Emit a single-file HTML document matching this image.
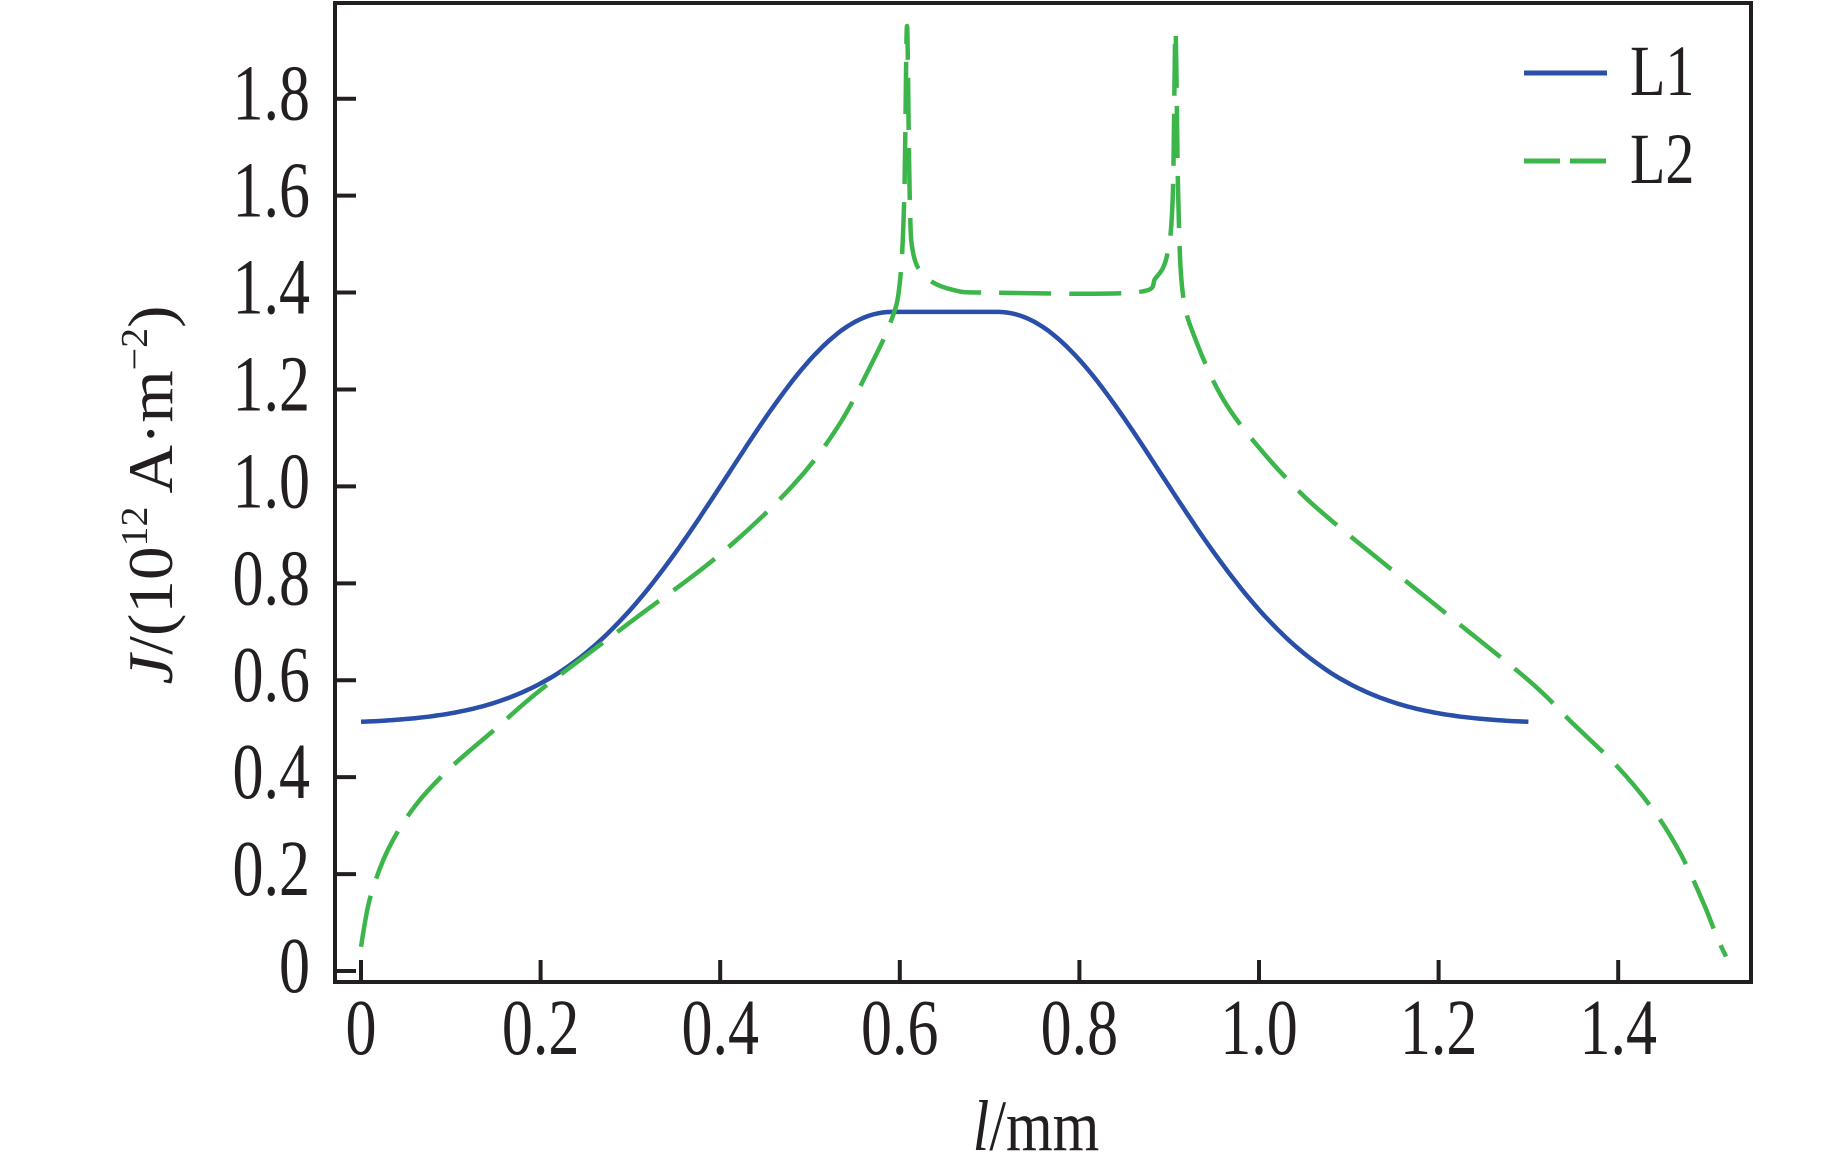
<!DOCTYPE html>
<html><head><meta charset="utf-8"><style>
html,body{margin:0;padding:0;background:#fff;}
svg{display:block;}
text{font-family:"Liberation Serif",serif;fill:#231f20;}
</style></head><body>
<svg id="s" width="1842" height="1174" viewBox="0 0 1842 1174" xmlns="http://www.w3.org/2000/svg">
<rect x="335" y="3" width="1416" height="979" fill="none" stroke="#231f20" stroke-width="4"/>
<g id="ticks" stroke="#231f20" stroke-width="4"></g>
<g id="labels" font-size="62"></g>
<path id="l1" fill="none" stroke="#2a4fa8" stroke-width="4.5"/>
<path id="l2" fill="none" stroke="#3cb54a" stroke-width="4.5" stroke-dasharray="52 18"/>
<line x1="1524" y1="73" x2="1607" y2="73" stroke="#2a4fa8" stroke-width="5"/>
<line x1="1524" y1="161" x2="1607" y2="161" stroke="#3cb54a" stroke-width="5" stroke-dasharray="36 10"/>
<text transform="translate(1630,95) scale(1,1.25)" font-size="58">L1</text>
<text transform="translate(1630,183) scale(1,1.25)" font-size="58">L2</text>
<text transform="translate(1036,1150) scale(1,1.2)" font-size="60" text-anchor="middle"><tspan font-style="italic">l</tspan>/mm</text>
<text transform="translate(172,495) rotate(-90) scale(1.05,1)" font-size="64" text-anchor="middle"><tspan font-style="italic">J</tspan>/(10<tspan font-size="38" dy="-25">12</tspan><tspan dy="25"> A·m</tspan><tspan font-size="38" dy="-25">−2</tspan><tspan dy="25">)</tspan></text>
</svg>
<script>
var X=function(v){return 361+v*898},Y=function(j){return 971-j*484.6};
var ns="http://www.w3.org/2000/svg",t=document.getElementById('ticks'),lb=document.getElementById('labels');
function el(p,n,a,txt){var e=document.createElementNS(ns,n);for(var k in a)e.setAttribute(k,a[k]);if(txt!=null)e.textContent=txt;p.appendChild(e);return e;}
var xl=['0','0.2','0.4','0.6','0.8','1.0','1.2','1.4'];
for(var i=0;i<8;i++){var x=X(i*0.2);el(t,'line',{x1:x,y1:982,x2:x,y2:960});
el(lb,'text',{transform:'translate('+x+',1054) scale(1,1.28)','text-anchor':'middle'},xl[i]);}
var yl=['0','0.2','0.4','0.6','0.8','1.0','1.2','1.4','1.6','1.8'];
for(var i=0;i<10;i++){var y=Y(i*0.2);el(t,'line',{x1:335,y1:y,x2:356,y2:y});
el(lb,'text',{transform:'translate(310,'+(y+21)+') scale(1,1.28)','text-anchor':'end'},yl[i]);}
var d='';for(var v=0;v<=1.3001;v+=0.005){var dd=Math.abs(v-0.65);var a=Math.max(dd-0.06,0)/0.256;var j=0.51+0.85*Math.exp(-a*a);d+=(d?'L':'M')+X(v).toFixed(1)+' '+Y(j).toFixed(1);}
document.getElementById('l1').setAttribute('d',d);
var P=[[0,0.05],[0.01,0.15],[0.03,0.25],[0.06,0.34],[0.1,0.42],[0.15,0.5],[0.2,0.58],[0.3,0.72],[0.4,0.86],[0.48,1.0],[0.53,1.12],[0.565,1.24],[0.59,1.34],[0.6,1.42],[0.605,1.6],[0.608,1.95],[0.611,1.6],[0.615,1.48],[0.63,1.43],[0.66,1.405],[0.7,1.4],[0.86,1.4],[0.885,1.43],[0.898,1.48],[0.904,1.6],[0.907,1.94],[0.91,1.6],[0.915,1.4],[0.93,1.3],[0.96,1.18],[1.0,1.08],[1.05,0.98],[1.1,0.9],[1.2,0.75],[1.3,0.6],[1.35,0.51],[1.4,0.42],[1.44,0.33],[1.47,0.24],[1.495,0.14],[1.51,0.07],[1.52,0.03]];
var Q=P.map(function(p){return [X(p[0]),Y(p[1])]});
var s='M'+Q[0][0]+' '+Q[0][1];
for(var i=0;i<Q.length-1;i++){var p0=Q[Math.max(i-1,0)],p1=Q[i],p2=Q[i+1],p3=Q[Math.min(i+2,Q.length-1)];
var c1=[p1[0]+(p2[0]-p0[0])/6,p1[1]+(p2[1]-p0[1])/6],c2=[p2[0]-(p3[0]-p1[0])/6,p2[1]-(p3[1]-p1[1])/6];
s+='C'+c1[0].toFixed(1)+' '+c1[1].toFixed(1)+' '+c2[0].toFixed(1)+' '+c2[1].toFixed(1)+' '+p2[0].toFixed(1)+' '+p2[1].toFixed(1);}
document.getElementById('l2').setAttribute('d',s);
</script>
</body></html>
